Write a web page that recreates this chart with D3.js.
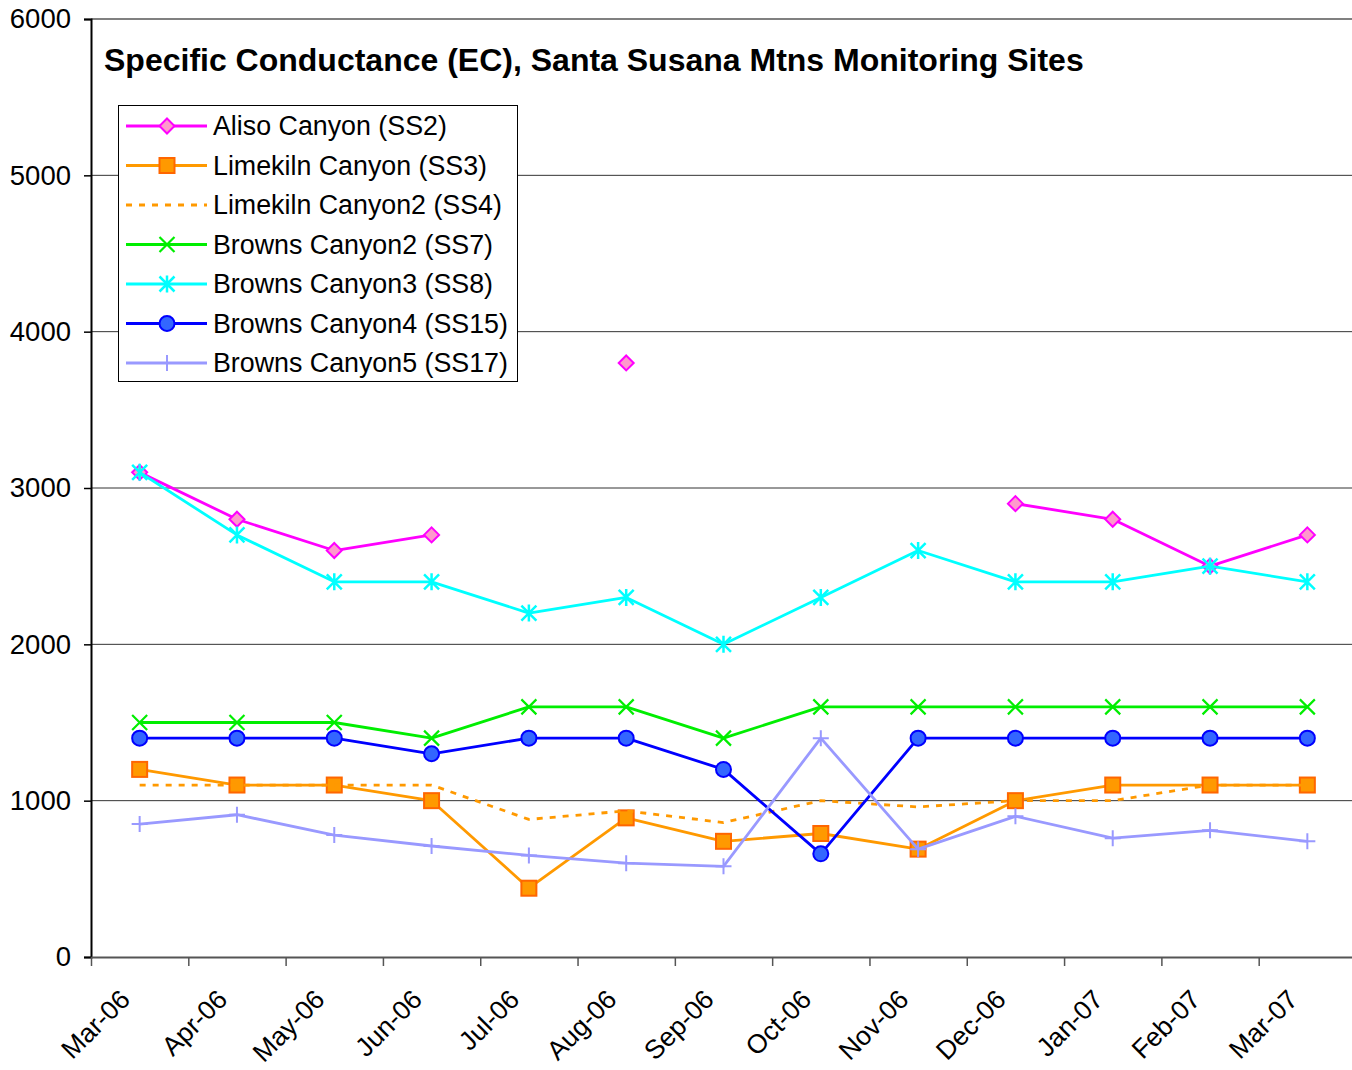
<!DOCTYPE html>
<html>
<head>
<meta charset="utf-8">
<script src="https://cdn.jsdelivr.net/npm/d3@7"></script>
<style>
  body { margin: 0; background: #fff; }
  svg text { font-family: "Liberation Sans", Arial, sans-serif; }
</style>
</head>
<body>
<div id="chart"></div>
<script>
const months = ["Mar-06","Apr-06","May-06","Jun-06","Jul-06","Aug-06","Sep-06","Oct-06","Nov-06","Dec-06","Jan-07","Feb-07","Mar-07"];
const yTicks = [0, 1000, 2000, 3000, 4000, 5000, 6000];

const ss2  = [3100, 2800, 2600, 2700, null, 3800, null, null, null, 2900, 2800, 2500, 2700];
const ss3  = [1200, 1100, 1100, 1000, 440, 890, 740, 790, 690, 1000, 1100, 1100, 1100];
const ss4  = [1100, 1100, 1100, 1100, 880, 935, 860, 1000, 960, 1000, 1000, 1100, 1100];
const ss7  = [1500, 1500, 1500, 1400, 1600, 1600, 1400, 1600, 1600, 1600, 1600, 1600, 1600];
const ss8  = [3100, 2700, 2400, 2400, 2200, 2300, 2000, 2300, 2600, 2400, 2400, 2500, 2400];
const ss15 = [1400, 1400, 1400, 1300, 1400, 1400, 1200, 660, 1400, 1400, 1400, 1400, 1400];
const ss17 = [850, 910, 780, 710, 650, 600, 580, 1400, 690, 900, 760, 810, 740];

const seriesNames = ["Aliso Canyon (SS2)","Limekiln Canyon (SS3)","Limekiln Canyon2 (SS4)","Browns Canyon2 (SS7)","Browns Canyon3 (SS8)","Browns Canyon4 (SS15)","Browns Canyon5 (SS17)"];

const series = [
  {name: seriesNames[0], values: ss2,  color: "#ff00ff", marker: "diamond", fill: "#ff99cc"},
  {name: seriesNames[1], values: ss3,  color: "#ff9900", marker: "square",  fill: "#ff9900", mstroke: "#ff6600"},
  {name: seriesNames[2], values: ss4,  color: "#ff9900", marker: "none", dash: "6,7"},
  {name: seriesNames[3], values: ss7,  color: "#00ee00", marker: "x"},
  {name: seriesNames[4], values: ss8,  color: "#00ffff", marker: "star"},
  {name: seriesNames[5], values: ss15, color: "#0000ff", marker: "circle", fill: "#3366ff"},
  {name: seriesNames[6], values: ss17, color: "#9999ff", marker: "plus"}
];

const width = 1352, height = 1070;
const margin = {left: 91, right: 1356, top: 19, bottom: 957};

const svg = d3.select("#chart").append("svg")
  .attr("width", width).attr("height", height);

const x = d3.scaleBand().domain(months).range([margin.left, margin.right]).padding(0);
const xTick = d3.scaleLinear().domain([0, months.length]).range([margin.left, margin.right]);
const y = d3.scaleLinear().domain([0, 6000]).range([margin.bottom, margin.top]);
const cx = m => x(m) + x.bandwidth() / 2;

// gridlines
svg.append("g")
  .selectAll("line")
  .data(yTicks.filter(d => d > 0))
  .join("line")
  .attr("x1", margin.left).attr("x2", width)
  .attr("y1", d => y(d)).attr("y2", d => y(d))
  .attr("stroke", d => d === 6000 ? "#808080" : "#333")
  .attr("stroke-width", d => d === 6000 ? 2 : 1);

// y axis
const yAxis = svg.append("g")
  .attr("transform", `translate(${margin.left},0)`)
  .call(d3.axisLeft(y).tickValues(yTicks).tickSize(7).tickPadding(13).tickFormat(d3.format("d")));
yAxis.select(".domain").attr("stroke", "#000").attr("stroke-width", 2);
yAxis.selectAll(".tick line").attr("stroke", "#000").attr("stroke-width", 1.5);
yAxis.selectAll("text").attr("font-size", 27.5).attr("fill", "#000");

// x axis
const xAxis = svg.append("g")
  .attr("transform", `translate(0,${margin.bottom})`)
  .call(d3.axisBottom(xTick).tickValues(d3.range(months.length + 1)).tickSize(9).tickSizeOuter(0).tickFormat(""));
xAxis.select(".domain").attr("stroke", "#555").attr("stroke-width", 2);
xAxis.selectAll(".tick line").attr("stroke", "#555").attr("stroke-width", 1.5);

svg.append("g")
  .selectAll("text")
  .data(months)
  .join("text")
  .attr("transform", d => `translate(${cx(d) - 8},${margin.bottom + 44}) rotate(-45)`)
  .attr("text-anchor", "end")
  .attr("font-size", 26.5)
  .attr("fill", "#000")
  .text(d => d);

// title
svg.append("text")
  .attr("x", 104).attr("y", 71)
  .attr("font-size", 32).attr("font-weight", "bold")
  .attr("fill", "#000")
  .text("Specific Conductance (EC), Santa Susana Mtns Monitoring Sites");

function drawMarker(g, s, px, py) {
  const r = 7.5;
  if (s.marker === "diamond") {
    g.append("path")
      .attr("d", `M${px},${py - r} L${px + r},${py} L${px},${py + r} L${px - r},${py} Z`)
      .attr("fill", s.fill).attr("stroke", s.color).attr("stroke-width", 2);
  } else if (s.marker === "square") {
    g.append("rect")
      .attr("x", px - r).attr("y", py - r).attr("width", 2 * r).attr("height", 2 * r)
      .attr("fill", s.fill).attr("stroke", s.mstroke).attr("stroke-width", 2);
  } else if (s.marker === "circle") {
    g.append("circle")
      .attr("cx", px).attr("cy", py).attr("r", r)
      .attr("fill", s.fill).attr("stroke", s.color).attr("stroke-width", 2);
  } else if (s.marker === "x") {
    g.append("path")
      .attr("d", `M${px - r},${py - r} L${px + r},${py + r} M${px - r},${py + r} L${px + r},${py - r}`)
      .attr("stroke", s.color).attr("stroke-width", 2.2).attr("fill", "none");
  } else if (s.marker === "star") {
    g.append("path")
      .attr("d", `M${px - r},${py - r} L${px + r},${py + r} M${px - r},${py + r} L${px + r},${py - r} M${px},${py - r - 1} L${px},${py + r + 1}`)
      .attr("stroke", s.color).attr("stroke-width", 2.5).attr("fill", "none");
  } else if (s.marker === "plus") {
    g.append("path")
      .attr("d", `M${px - 8},${py} L${px + 8},${py} M${px},${py - 8} L${px},${py + 8}`)
      .attr("stroke", s.color).attr("stroke-width", 2).attr("fill", "none");
  }
}

const line = d3.line()
  .defined(d => d.v != null)
  .x(d => cx(d.m))
  .y(d => y(d.v));

series.forEach(s => {
  const g = svg.append("g");
  const pts = months.map((m, i) => ({m: m, v: s.values[i]}));
  g.append("path")
    .datum(pts)
    .attr("d", line)
    .attr("fill", "none")
    .attr("stroke", s.color)
    .attr("stroke-width", 2.8)
    .attr("stroke-dasharray", s.dash || null)
    .attr("stroke-linejoin", "round");
  pts.filter(p => p.v != null).forEach(p => drawMarker(g, s, cx(p.m), y(p.v)));
});

// legend
const lg = svg.append("g").attr("transform", "translate(118,105)");
lg.append("rect")
  .attr("x", 0.5).attr("y", 0.5).attr("width", 399).attr("height", 276)
  .attr("fill", "#fff").attr("stroke", "#000").attr("stroke-width", 1);
series.forEach((s, i) => {
  const ly = 21 + i * 39.5;
  const row = lg.append("g");
  row.append("line")
    .attr("x1", 8).attr("x2", 89).attr("y1", ly).attr("y2", ly)
    .attr("stroke", s.color).attr("stroke-width", 2.8)
    .attr("stroke-dasharray", s.dash || null);
  drawMarker(row, s, 49, ly);
  row.append("text")
    .attr("x", 95).attr("y", ly + 9)
    .attr("font-size", 26.8).attr("fill", "#000")
    .text(s.name);
});
</script>
</body>
</html>
